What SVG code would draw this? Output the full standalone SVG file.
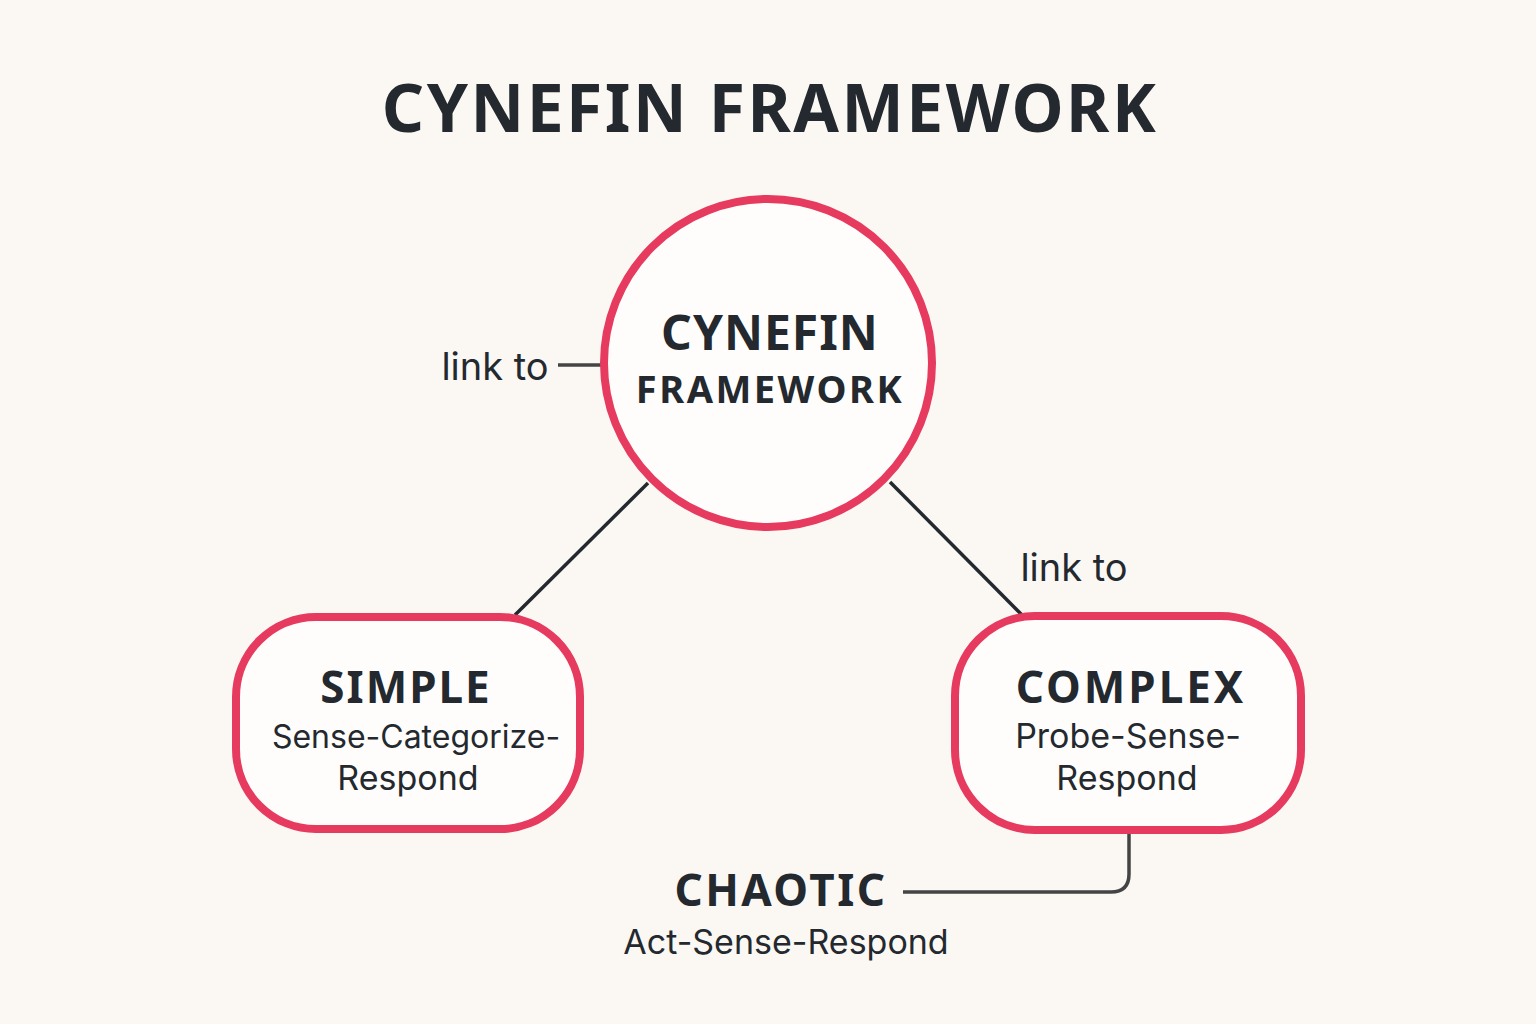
<svg xmlns="http://www.w3.org/2000/svg" width="1536" height="1024" viewBox="0 0 1536 1024">
<style>
.node{fill:#fffdfb;stroke:#e63a5f;stroke-width:8}
.t{font-family:"Noto Sans","Open Sans",sans-serif;fill:#23292e;text-anchor:middle}
.r{font-family:Inter,"Noto Sans",sans-serif;font-weight:400}
.b{font-weight:700}
.edge{stroke:#23292e;stroke-width:3.5;fill:none}
.edge2{stroke:#444;stroke-width:3.5;fill:none}
</style>
<rect width="1536" height="1024" fill="#fbf8f4"/>
<text class="t b" x="770" y="132" font-size="66" letter-spacing="2.5">CYNEFIN FRAMEWORK</text>
<g id="connectors">
<line class="edge2" x1="558" y1="365" x2="602" y2="365"/>
<line class="edge" x1="648" y1="483" x2="515" y2="615"/>
<line class="edge" x1="890" y1="482" x2="1022" y2="615"/>
<path class="edge2" d="M1129 834 V874 Q1129 892 1111 892 H903"/>
<text class="t r" x="495" y="380" font-size="38">link to</text>
<text class="t r" x="1074" y="581" font-size="38">link to</text>
</g>
<g id="cynefin">
<circle class="node" cx="768" cy="363" r="164"/>
<text class="t b" x="770" y="350" font-size="48" letter-spacing="1">CYNEFIN</text>
<text class="t b" x="770" y="403" font-size="38" letter-spacing="2.5">FRAMEWORK</text>
</g>
<g id="simple">
<rect class="node" x="236" y="617" width="344" height="212" rx="80"/>
<text class="t b" x="406" y="703" font-size="44" letter-spacing="2">SIMPLE</text>
<text class="t r" x="416" y="748" font-size="32">Sense-Categorize-</text>
<text class="t r" x="408" y="790" font-size="34">Respond</text>
</g>
<g id="complex">
<rect class="node" x="955" y="616" width="346" height="214" rx="80"/>
<text class="t b" x="1131" y="703" font-size="44" letter-spacing="3">COMPLEX</text>
<text class="t r" x="1128" y="748" font-size="34">Probe-Sense-</text>
<text class="t r" x="1127" y="790" font-size="34">Respond</text>
</g>
<g id="chaotic">
<text class="t b" x="781" y="906" font-size="44" letter-spacing="2.5">CHAOTIC</text>
<text class="t r" x="786" y="954" font-size="34">Act-Sense-Respond</text>
</g>
</svg>
